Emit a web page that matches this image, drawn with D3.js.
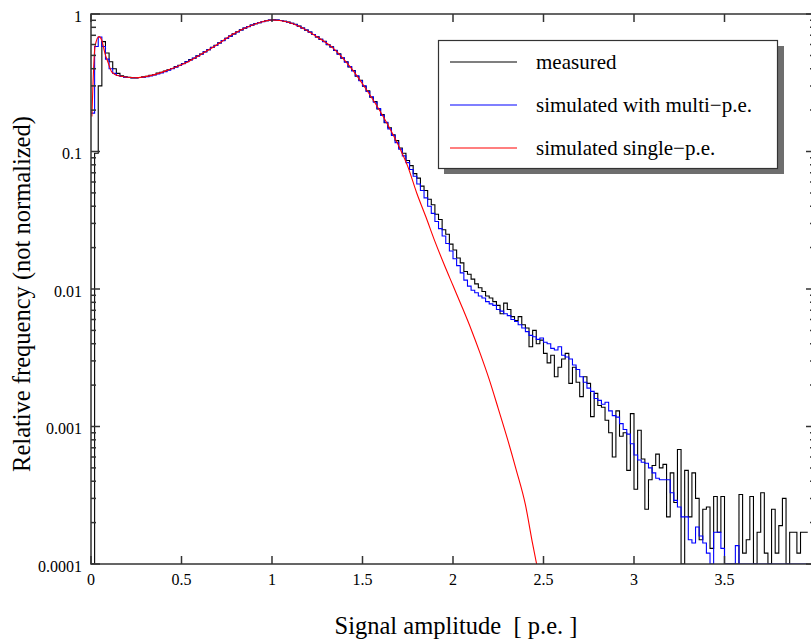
<!DOCTYPE html>
<html>
<head>
<meta charset="utf-8">
<script src="https://cdn.jsdelivr.net/npm/d3@7"></script>
<style>
body { margin: 0; background: #fff; }
text { font-family: "Liberation Serif", "Times New Roman", serif; fill: #000; }
</style>
</head>
<body>
<svg id="chart" width="811" height="642"></svg>
<script>
// histogram bins: start at 0, width 0.02
var binStart = 0, binWidth = 0.02

var measured = [
  0, 0.097, 0.30, 0.63, 0.52, 0.45, 0.40, 0.37, 0.356, 0.349,
  0.346, 0.343, 0.342, 0.345, 0.349, 0.352, 0.358, 0.362, 0.372, 0.376,
  0.385, 0.393, 0.401, 0.414, 0.423, 0.437, 0.451, 0.466, 0.477, 0.497,
  0.512, 0.532, 0.551, 0.573, 0.591, 0.617, 0.641, 0.667, 0.69, 0.717,
  0.742, 0.766, 0.789, 0.812, 0.831, 0.851, 0.866, 0.882, 0.893, 0.904,
  0.907, 0.904, 0.898, 0.886, 0.874, 0.855, 0.84, 0.816, 0.792, 0.764,
  0.74, 0.709, 0.682, 0.654, 0.632, 0.598, 0.577, 0.543, 0.513, 0.478,
  0.45, 0.412, 0.388, 0.353, 0.33, 0.298, 0.276, 0.248, 0.231, 0.204,
  0.186, 0.162, 0.149, 0.132, 0.12, 0.106, 0.097, 0.086, 0.079, 0.069,
  0.064, 0.056, 0.052, 0.045, 0.041, 0.035, 0.032, 0.027, 0.025, 0.0212,
  0.0192, 0.0168, 0.0155, 0.0134, 0.0128, 0.0118, 0.0109, 0.0102, 0.0096, 0.0089,
  0.0086, 0.0081, 0.0076, 0.0066, 0.0079, 0.0071, 0.0063, 0.0059, 0.0063, 0.0055,
  0.0052, 0.0038, 0.005, 0.004, 0.00425, 0.0034, 0.0029, 0.0033, 0.0023, 0.0027,
  0.0031, 0.0034, 0.00206, 0.0027, 0.0021, 0.00165, 0.0023, 0.00206, 0.00118, 0.00174,
  0.00142, 0.00138, 0.00111, 0.0009, 0.0006, 0.0013, 0.00085, 0.0009, 0.00048, 0.00124,
  0.00035, 0.00094, 0.00058, 0.00025, 0.00041, 0.00052, 0.00063, 0.0005, 0.00053, 0.00022,
  0.00046, 0.00028, 0.00068, 0, 0.00048, 0.00022, 0.00046, 0.0003, 0.00015, 0.00025,
  0.00026, 0.00013, 0.00031, 0.00017, 0.00031, 0, 0, 0, 0, 0.00032,
  0.00012, 0.00015, 0.00031, 0, 0.00017, 0.00033, 0.00012, 0, 0.00025, 0.00012,
  0.00019, 0.0003, 0, 0.00017, 0.00017, 0.00012, 0.00017, 0.00017
]

var multiPE = [
  0.19, 0.58, 0.68, 0.58, 0.47, 0.40, 0.37, 0.357, 0.351, 0.347,
  0.345, 0.344, 0.344, 0.345, 0.347, 0.350, 0.355, 0.360, 0.366, 0.373,
  0.381, 0.39, 0.40, 0.411, 0.422, 0.435, 0.449, 0.463, 0.478, 0.494,
  0.51, 0.53, 0.55, 0.57, 0.59, 0.615, 0.64, 0.665, 0.69, 0.715,
  0.74, 0.765, 0.79, 0.81, 0.83, 0.85, 0.865, 0.88, 0.893, 0.902,
  0.905, 0.903, 0.896, 0.885, 0.872, 0.857, 0.838, 0.815, 0.79, 0.765,
  0.738, 0.71, 0.68, 0.655, 0.63, 0.60, 0.575, 0.545, 0.51, 0.48,
  0.447, 0.414, 0.385, 0.355, 0.327, 0.30, 0.273, 0.25, 0.228, 0.205,
  0.183, 0.163, 0.146, 0.131, 0.116, 0.104, 0.093, 0.083, 0.074, 0.066,
  0.058, 0.052, 0.046, 0.040, 0.0355, 0.031, 0.0275, 0.0243, 0.0214, 0.0189,
  0.0166, 0.0148, 0.0131, 0.0116, 0.0105, 0.0098, 0.0094, 0.0089, 0.0086, 0.0081,
  0.0078, 0.0076, 0.0071, 0.0069, 0.0066, 0.0064, 0.0060, 0.0058, 0.0055, 0.0052,
  0.0049, 0.0046, 0.0045, 0.0043, 0.0044, 0.0041, 0.0040, 0.0037, 0.0036, 0.0038,
  0.0033, 0.0032, 0.0031, 0.0028, 0.0026, 0.0023, 0.0021, 0.0019, 0.0018, 0.0016,
  0.00155, 0.00145, 0.0015, 0.0013, 0.0012, 0.00117, 0.00105, 0.00095, 0.00088, 0.00075,
  0.00062, 0.00057, 0.00055, 0.00054, 0.0005, 0.00046, 0.00042, 0.00041, 0.00041, 0.00041,
  0.00033, 0.00029, 0.00026, 0.00022, 0.00022, 0.00015, 0.000142, 0.000186, 0.00016, 0.000142,
  0.00012, 0, 0.00017, 0.00017, 0.00013, 0, 0, 0, 0.000136, 0,
  0, 0, 0, 0, 0, 0, 0, 0, 0, 0,
  0, 0, 0, 0, 0, 0, 0, 0
]

// single p.e. simulation, drawn as a line
var singleX = [0.005, 0.022, 0.044, 0.059, 0.077, 0.096, 0.114, 0.151, 0.243, 0.335,
  0.427, 0.519, 0.611, 0.694, 0.786, 0.878, 1.004, 1.081, 1.155, 1.247,
  1.339, 1.431, 1.523, 1.615, 1.707, 1.75, 1.80, 1.85, 1.90, 1.95,
  2.0, 2.05, 2.1, 2.15, 2.2, 2.25, 2.3, 2.35, 2.4, 2.44, 2.462]
var singleY = [0.18, 0.58, 0.685, 0.647, 0.518, 0.438, 0.38, 0.356, 0.344, 0.358,
  0.392, 0.438, 0.512, 0.595, 0.715, 0.818, 0.905, 0.879, 0.808, 0.684,
  0.563, 0.414, 0.28, 0.179, 0.105, 0.078, 0.0497, 0.0335, 0.0222, 0.0152,
  0.0106, 0.0074, 0.0051, 0.0034, 0.0022, 0.00135, 0.00082, 0.00048, 0.00027, 0.00014, 0.0001]

var xTicks = [0, 0.5, 1, 1.5, 2, 2.5, 3, 3.5]
var xTickLabels = ['0', '0.5', '1', '1.5', '2', '2.5', '3', '3.5']
var yTicks = [1, 0.1, 0.01, 0.001, 0.0001]
var yTickLabels = ['1', '0.1', '0.01', '0.001', '0.0001']

var legendNames = ['measured', 'simulated with multi\u2212p.e.', 'simulated single\u2212p.e.']
var legendColors = ['#000000', '#0000ff', '#ff0000']

// plot box (window.top is reserved, so use own names)
var pLeft = 91, pRight = 815, pTop = 14, pBottom = 564
var axisColor = '#333'

var svg = d3.select('#chart')

var x = d3.scaleLinear().domain([0, 4]).range([pLeft, pRight])
var y = d3.scaleLog().domain([1e-4, 1]).range([pBottom, pTop]).clamp(true)

function yv(v) { return v > 0 ? y(v) : pBottom }

function histPoints(vals) {
  var pts = vals.map(function (v, i) { return [binStart + i * binWidth, v] })
  pts.push([binStart + vals.length * binWidth, vals[vals.length - 1]])
  return pts
}

svg.append('defs').append('clipPath').attr('id', 'plotclip')
  .append('rect').attr('x', pLeft).attr('y', pTop).attr('width', pRight - pLeft).attr('height', pBottom - pTop)

var plot = svg.append('g').attr('clip-path', 'url(#plotclip)')

var stepLine = d3.line()
  .x(function (d) { return x(d[0]) })
  .y(function (d) { return yv(d[1]) })
  .curve(d3.curveStepAfter)

plot.append('path').attr('d', stepLine(histPoints(measured)))
  .attr('fill', 'none').attr('stroke', '#000').attr('stroke-width', 1.1)

plot.append('path').attr('d', stepLine(histPoints(multiPE)))
  .attr('fill', 'none').attr('stroke', '#0000ff').attr('stroke-width', 1.1)

var redLine = d3.line()
  .x(function (d) { return x(d) })
  .y(function (d, i) { return yv(singleY[i]) })
  .curve(d3.curveMonotoneX)

plot.append('path').attr('d', redLine(singleX))
  .attr('fill', 'none').attr('stroke', '#ff0000').attr('stroke-width', 1.1)

// frame
var frame = svg.append('g').attr('stroke', axisColor).attr('stroke-width', 1.5).attr('fill', 'none')
frame.append('rect').attr('x', pLeft).attr('y', pTop).attr('width', pRight - pLeft).attr('height', pBottom - pTop)

// x ticks, bottom and top, pointing inward
xTicks.forEach(function (t) {
  frame.append('line').attr('x1', x(t)).attr('x2', x(t)).attr('y1', pBottom).attr('y2', pBottom - 8)
  frame.append('line').attr('x1', x(t)).attr('x2', x(t)).attr('y1', pTop).attr('y2', pTop + 8)
})

// y ticks, major and minor, left and right
yTicks.forEach(function (t) {
  frame.append('line').attr('x1', pLeft).attr('x2', pLeft + 9).attr('y1', y(t)).attr('y2', y(t))
  frame.append('line').attr('x1', pRight).attr('x2', pRight - 9).attr('y1', y(t)).attr('y2', y(t))
  if (t < 1) {
    for (var k = 2; k <= 9; k++) {
      var yy = y(t * k)
      frame.append('line').attr('x1', pLeft).attr('x2', pLeft + 5).attr('y1', yy).attr('y2', yy)
      frame.append('line').attr('x1', pRight).attr('x2', pRight - 5).attr('y1', yy).attr('y2', yy)
    }
  }
})

svg.selectAll('.xlab').data(xTicks).enter().append('text')
  .attr('class', 'xlab')
  .attr('x', function (d) { return x(d) })
  .attr('y', 585)
  .attr('text-anchor', 'middle')
  .style('font-size', '16px')
  .text(function (d, i) { return xTickLabels[i] })

svg.selectAll('.ylab').data(yTicks).enter().append('text')
  .attr('class', 'ylab')
  .attr('x', 82)
  .attr('y', function (d) { return y(d) + 7.5 })
  .attr('text-anchor', 'end')
  .style('font-size', '16px')
  .text(function (d, i) { return yTickLabels[i] })

svg.append('text')
  .attr('x', 456).attr('y', 634)
  .attr('text-anchor', 'middle')
  .style('font-size', '24.5px')
  .style('white-space', 'pre')
  .attr('xml:space', 'preserve')
  .text('Signal amplitude  [ p.e. ]')

svg.append('text')
  .attr('transform', 'translate(29.5,294) rotate(-90)')
  .attr('text-anchor', 'middle')
  .style('font-size', '24.5px')
  .text('Relative frequency (not normalized)')

// legend with shadow
var lg = svg.append('g')
lg.append('rect').attr('x', 444).attr('y', 46).attr('width', 340).attr('height', 128).attr('fill', '#6e6e6e')
lg.append('rect').attr('x', 438.5).attr('y', 40.5).attr('width', 339).attr('height', 128)
  .attr('fill', '#fff').attr('stroke', axisColor).attr('stroke-width', 1.2)

legendNames.forEach(function (name, i) {
  var ly = 62 + i * 43
  lg.append('line').attr('x1', 450).attr('x2', 517).attr('y1', ly).attr('y2', ly)
    .attr('stroke', legendColors[i]).attr('stroke-width', 1.1)
  lg.append('text').attr('x', 536).attr('y', ly + 7)
    .style('font-size', '21px')
    .text(name)
})
</script>
</body>
</html>
